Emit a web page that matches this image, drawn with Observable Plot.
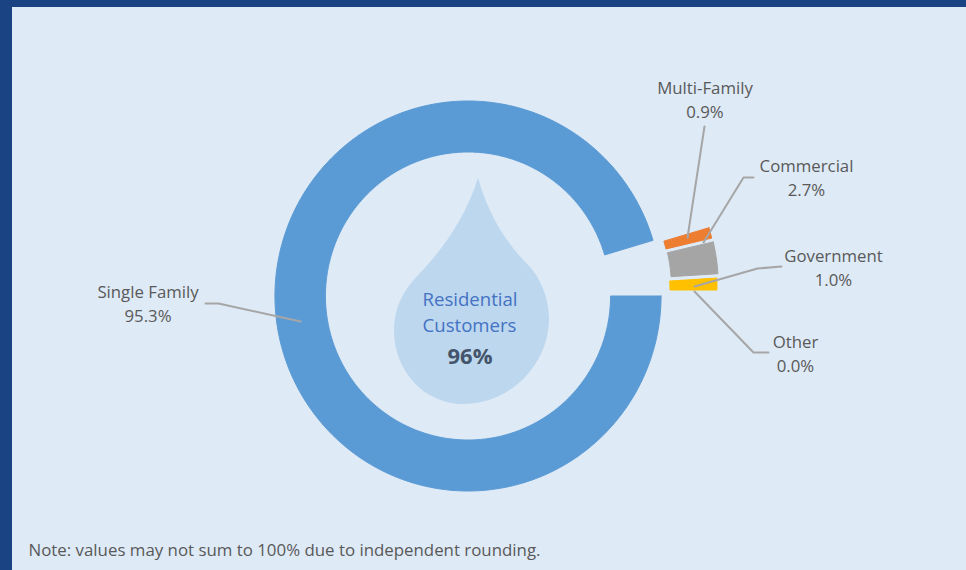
<!DOCTYPE html>
<html>
<head>
<meta charset="utf-8">
<script src="https://cdn.jsdelivr.net/npm/d3@7"></script>
<script src="https://cdn.jsdelivr.net/npm/@observablehq/plot@0.6"></script>
<style>
html,body{margin:0;padding:0;background:#DEEAF6;width:966px;height:570px;overflow:hidden}
#frame{position:absolute;left:0;top:0;width:954px;height:563px;border-top:7px solid #1A4384;border-left:12px solid #1A4384;background:#DEEAF6}
#chart{position:absolute;left:0;top:0}
</style>
</head>
<body>
<div id="frame"></div>
<div id="chart"></div>
<script>
// Data
const categories = ["Single Family", "Multi-Family", "Commercial", "Government", "Other"];
const shares = [95.3, 0.9, 2.7, 1.0, 0.0];
const sliceColors = ["#5B9BD5", "#ED7D31", "#A5A5A5", "#FFC000", "#4472C4"];

// Layout
const W = 966, H = 570, FONT = "'Open Sans', sans-serif";
const cx = 467.5, cy = 295.5;
const ringShape = {rOuter: 195, rInner: 144, sx: 0.99};
const pieceShape = {rOuter: 189.5, rInner: 142.5, sx: 1};
const burst = {"Single Family":[0,0], "Multi-Family":[59.3,-14.2], "Commercial":[60.8,-10.4], "Government":[59.5,-6], "Other":[59.5,-6]};
const labelPos = {"Single Family":[147.5,302], "Multi-Family":[704.5,98], "Commercial":[806,176], "Government":[833,266], "Other":[795,352]};
const leaders = {
  "Single Family":[[205,303],[218,303],[300,321]],
  "Multi-Family":[[704,126],[687,237]],
  "Commercial":[[753,177],[743,177],[703,242]],
  "Government":[[781,266],[757,268],[694,286]],
  "Other":[[768,352],[753,352],[694,291]]
};

// Slices, clockwise from 3 o'clock, derived from the shares
const total = d3.sum(shares);
let running = 0;
const slicePoints = categories.flatMap((name, i) => {
  const a0 = running / total * 2 * Math.PI;
  running += shares[i];
  const a1 = running / total * 2 * Math.PI;
  if (shares[i] === 0) return [];
  const n = Math.max(2, Math.ceil((a1 - a0) * 60));
  const ts = d3.range(n + 1).map(k => a0 + (a1 - a0) * k / n);
  const [dx, dy] = burst[name];
  const {rOuter, rInner, sx} = i === 0 ? ringShape : pieceShape;
  const at = r => t => ({name, x: cx + dx + sx * r * Math.cos(t), y: cy + dy + r * Math.sin(t)});
  const ring = [...ts.map(at(rOuter)), ...ts.slice().reverse().map(at(rInner))];
  ring.push(ring[0]);
  return ring;
});
const labels = categories.map((name, i) => ({
  name, text: `${name}\n${shares[i].toFixed(1)}%`, x: labelPos[name][0], y: labelPos[name][1]
}));
const leaderPoints = categories.flatMap(name => leaders[name].map(([x, y]) => ({name, x, y})));

const dropMark = (index, {x, y}) => {
  const p = (a, b) => `${x(a)} ${y(b)}`;
  const d = `M${p(478,178)} C${p(465,220)} ${p(440,252)} ${p(420,273)} C${p(403,290)} ${p(394,308)} ${p(394,330)} C${p(394,372)} ${p(425,404)} ${p(463,404)} C${p(510,404)} ${p(549,365)} ${p(549,318)} C${p(549,298)} ${p(540,278)} ${p(530,267)} C${p(510,247)} ${p(490,220)} ${p(478,178)} Z`;
  const path = document.createElementNS("http://www.w3.org/2000/svg", "path");
  path.setAttribute("d", d);
  path.setAttribute("fill", "#BDD7EE");
  return path;
};

const chart = Plot.plot({
  width: W, height: H,
  margin: 0,
  style: {background: "transparent", fontFamily: FONT},
  x: {domain: [0, W], range: [0, W], axis: null},
  y: {domain: [0, H], range: [0, H], axis: null},
  color: {domain: categories, range: sliceColors},
  marks: [
    dropMark,
    Plot.line(slicePoints, {x: "x", y: "y", z: "name", fill: "name", stroke: "name", strokeWidth: 1, curve: "linear"}),
    Plot.line(leaderPoints, {x: "x", y: "y", z: "name", stroke: "#A6A6A6", strokeWidth: 2, curve: "linear"}),
    Plot.text(labels, {x: "x", y: "y", text: "text", fill: "#595959", fontSize: 16.8, lineHeight: 1.43, fontFamily: FONT}),
    Plot.text(["Residential"], {x: () => 469.5, y: () => 300, text: d => d, fill: "#4472C4", fontSize: 18.6, fontFamily: FONT}),
    Plot.text(["Customers"], {x: () => 469, y: () => 326, text: d => d, fill: "#4472C4", fontSize: 18.6, fontFamily: FONT}),
    Plot.text(["96%"], {x: () => 469.5, y: () => 356, text: d => d, fill: "#44546A", fontSize: 22, fontWeight: 700, fontFamily: FONT}),
    Plot.text(["Note: values may not sum to 100% due to independent rounding."], {x: () => 28, y: () => 550, text: d => d, textAnchor: "start", fill: "#595959", fontSize: 16.85, fontFamily: FONT})
  ]
});
document.getElementById("chart").appendChild(chart);
</script>
</body>
</html>
